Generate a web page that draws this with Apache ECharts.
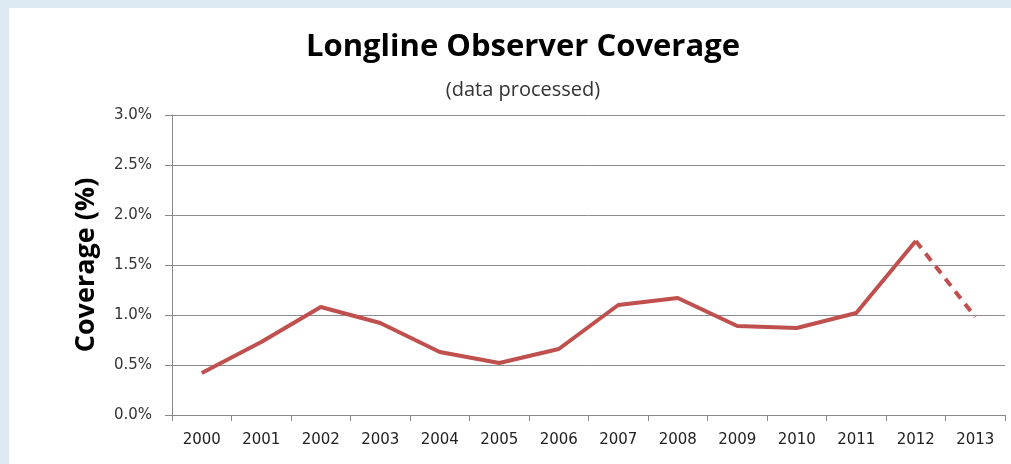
<!DOCTYPE html>
<html><head><meta charset="utf-8">
<script src="https://cdn.jsdelivr.net/npm/echarts@6/dist/echarts.min.js"></script>
<style>html,body{margin:0;padding:0;background:#dde9f3;}#c{width:1011px;height:464px;}</style>
</head><body><div id="c"></div>
<script>
const years = ['2000','2001','2002','2003','2004','2005','2006','2007','2008','2009','2010','2011','2012','2013'];
const coverage = [0.42,0.73,1.08,0.92,0.63,0.52,0.66,1.10,1.17,0.89,0.87,1.02,1.74,0.98];
const yTicks = [0,0.5,1.0,1.5,2.0,2.5,3.0];
const solidPart = coverage.map((v,i)=> i <= 12 ? v : null);
const dashedPart = coverage.map((v,i)=> i >= 12 ? v : null);
const chart = echarts.init(document.getElementById('c'));
const red = '#c0504d';
chart.setOption({
  backgroundColor: 'transparent',
  animation: false,
  graphic: [{type:'rect', left:9, top:8, shape:{width:1002, height:456}, style:{fill:'#ffffff'}, z:-10}],
  title: [
    {text:'Longline Observer Coverage', left:518, top:27, textAlign:'center',
     textStyle:{fontFamily:'Open Sans', fontWeight:'bold', fontSize:31, color:'#000'}},
    {text:'(data processed)', left:518, top:75, textAlign:'center',
     textStyle:{fontFamily:'Open Sans', fontWeight:'normal', fontSize:20, color:'#333'}}
  ],
  grid: {left:172, right:6, top:115, bottom:49},
  xAxis: {
    type:'category', data: years, boundaryGap:true,
    axisLine:{lineStyle:{color:'#888', width:1}},
    axisTick:{show:true, length:6, lineStyle:{color:'#888'}},
    axisLabel:{fontFamily:'DejaVu Sans', fontSize:15, color:'#222', margin:18}
  },
  yAxis: {
    type:'value', min:0, max:3, interval:0.5,
    name:'Coverage (%)', nameLocation:'middle', nameGap:72,
    nameTextStyle:{fontFamily:'Open Sans', fontWeight:'bold', fontSize:27, color:'#000'},
    axisLine:{show:true, lineStyle:{color:'#888'}},
    axisTick:{show:true, length:7, lineStyle:{color:'#888'}},
    splitLine:{lineStyle:{color:'#8c8c8c', width:1}},
    axisLabel:{fontFamily:'DejaVu Sans', fontSize:15, color:'#333', margin:20,
      formatter: v => v.toFixed(1) + '%'}
  },
  series: [
    {type:'line', data: solidPart, symbol:'none', connectNulls:false,
     lineStyle:{color:red, width:4}},
    {type:'line', data: dashedPart, symbol:'none',
     lineStyle:{color:red, width:4, type:[9,7]}}
  ]
});
</script></body></html>
